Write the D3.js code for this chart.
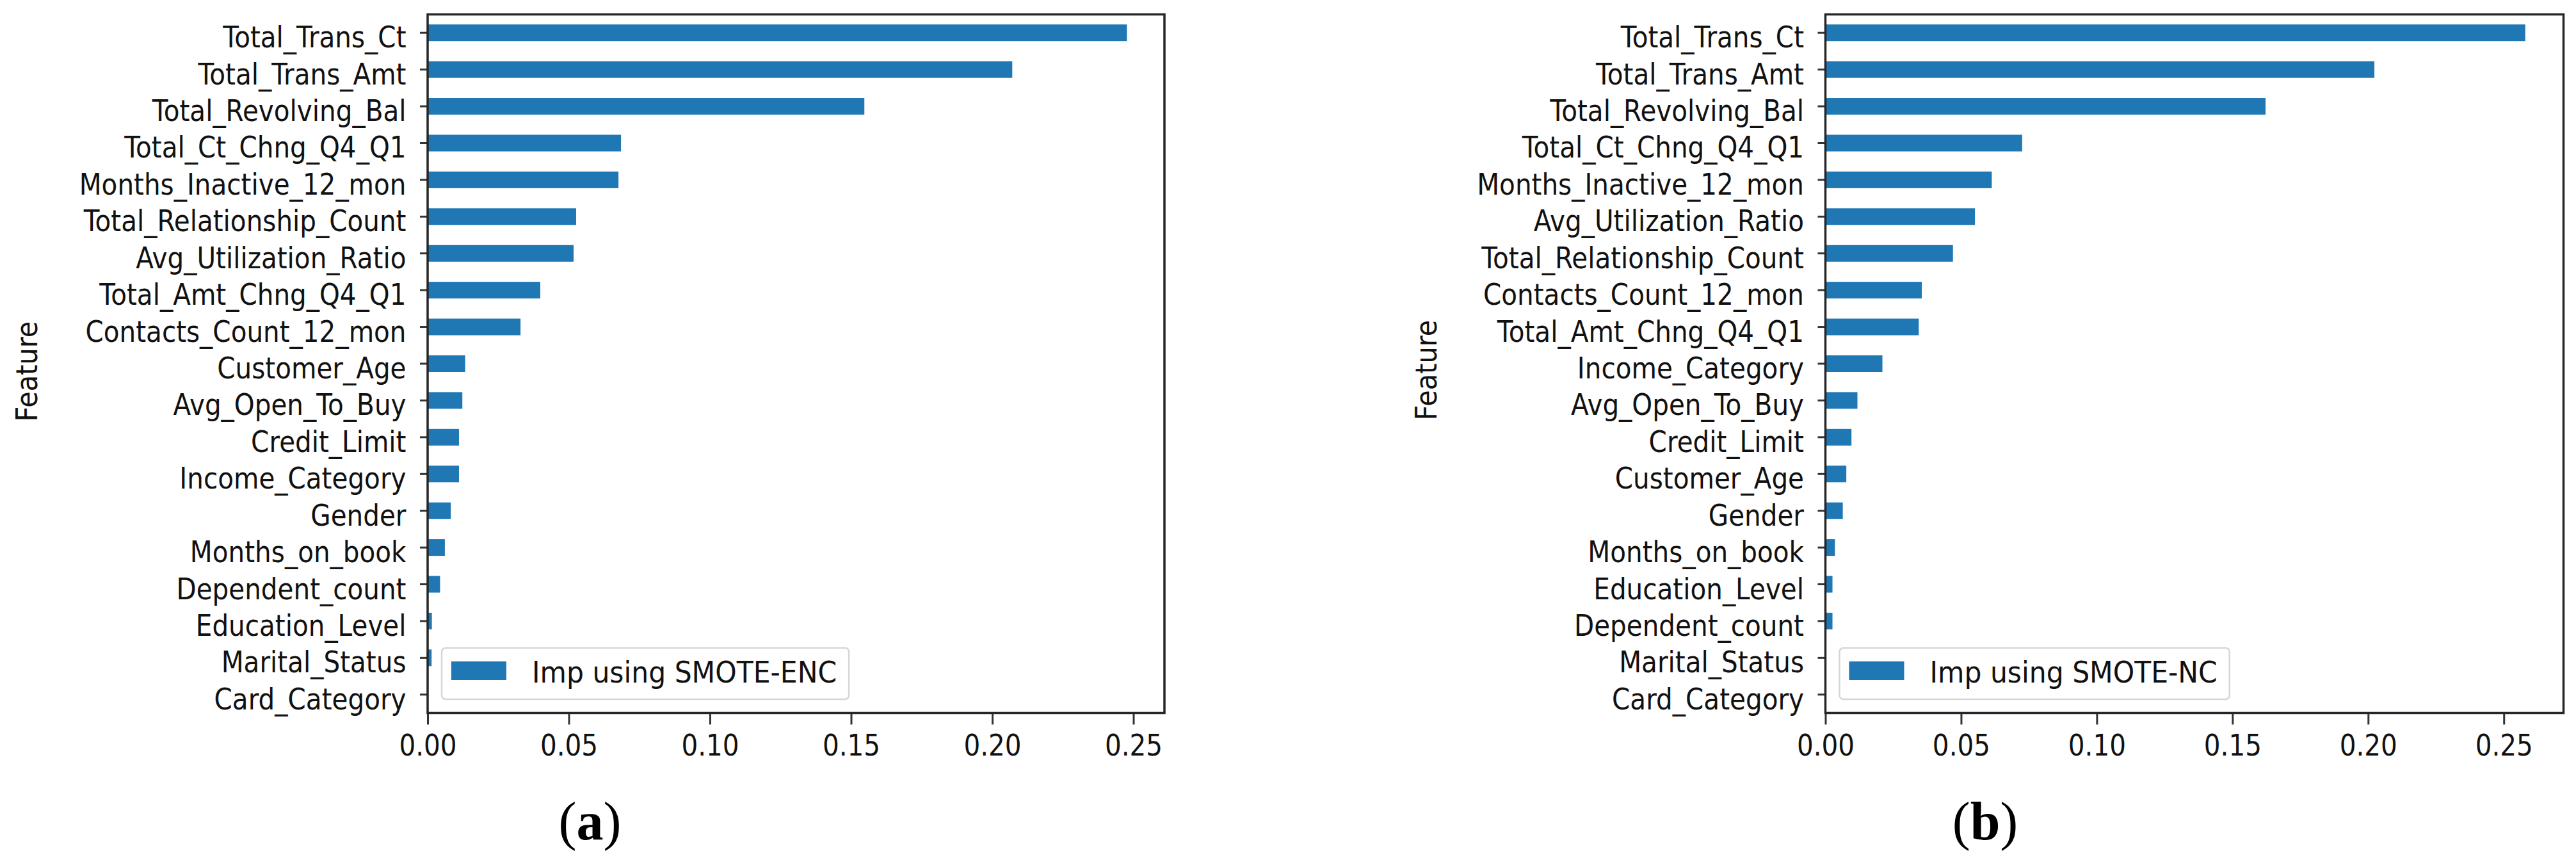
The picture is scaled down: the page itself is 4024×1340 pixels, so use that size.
<!DOCTYPE html>
<html><head><meta charset="utf-8">
<script src="https://cdn.jsdelivr.net/npm/d3@7"></script>
<style>body{margin:0;background:#fff}</style>
</head><body>
<svg id="chart" width="4024" height="1340"></svg>
<script>
// ---- data ----
const featuresA = ["Total_Trans_Ct","Total_Trans_Amt","Total_Revolving_Bal","Total_Ct_Chng_Q4_Q1","Months_Inactive_12_mon","Total_Relationship_Count","Avg_Utilization_Ratio","Total_Amt_Chng_Q4_Q1","Contacts_Count_12_mon","Customer_Age","Avg_Open_To_Buy","Credit_Limit","Income_Category","Gender","Months_on_book","Dependent_count","Education_Level","Marital_Status","Card_Category"];
const importanceA = [0.2477,0.2071,0.1547,0.0685,0.0676,0.0526,0.0517,0.0399,0.0329,0.0133,0.0123,0.0111,0.0111,0.0082,0.0061,0.0044,0.0015,0.0014,0.0];
const featuresB = ["Total_Trans_Ct","Total_Trans_Amt","Total_Revolving_Bal","Total_Ct_Chng_Q4_Q1","Months_Inactive_12_mon","Avg_Utilization_Ratio","Total_Relationship_Count","Contacts_Count_12_mon","Total_Amt_Chng_Q4_Q1","Income_Category","Avg_Open_To_Buy","Credit_Limit","Customer_Age","Gender","Months_on_book","Education_Level","Dependent_count","Marital_Status","Card_Category"];
const importanceB = [0.2579,0.2023,0.1622,0.0725,0.0613,0.0551,0.0470,0.0355,0.0344,0.0210,0.0118,0.0096,0.0077,0.0064,0.0035,0.0026,0.0026,0.0,0.0];
const xTickValues = [0.00,0.05,0.10,0.15,0.20,0.25];
const legendLabels = ["Imp using SMOTE-ENC","Imp using SMOTE-NC"];
const panelLetters = ["a","b"];
const yAxisTitle = "Feature";
const xMaxA = 0.261, xMaxB = 0.272;

// ---- drawing ----
const BAR = "#1f77b4";
const INK = "#111111";
const FONT = "'DejaVu Sans', sans-serif";
const svg = d3.select("#chart");
svg.append("rect").attr("width",4024).attr("height",1340).attr("fill","#fff");

const TOP = 22.5, BOTTOM = 1113.5;

function panel(cfg){
  const g = svg.append("g");
  const x = d3.scaleLinear().domain([0, cfg.xMax]).range([cfg.left, cfg.right]);
  const y = d3.scaleBand().domain(cfg.features).range([TOP, BOTTOM])
              .paddingInner(0.547).paddingOuter(0.2735);

  // bars
  g.append("g").selectAll("rect").data(cfg.features).join("rect")
    .attr("x", x(0))
    .attr("y", d => y(d))
    .attr("width", (d,i) => x(cfg.values[i]) - x(0))
    .attr("height", y.bandwidth())
    .attr("fill", BAR);

  // y axis
  const ya = g.append("g").attr("transform", `translate(${cfg.left},0)`)
    .call(d3.axisLeft(y).tickSize(12).tickPadding(21.5));
  ya.select(".domain").remove();
  ya.attr("font-size", null).attr("font-family", null);
  ya.selectAll(".tick line").attr("stroke", "#333").attr("stroke-width", 3);
  ya.selectAll(".tick text")
    .attr("dy", null).attr("y", 0)
    .attr("transform", "translate(0,23) scale(1,1.13)")
    .attr("fill", INK).style("font-family", FONT).style("font-size", "40.5px");

  // x axis
  const xa = g.append("g").attr("transform", `translate(0,${BOTTOM})`)
    .call(d3.axisBottom(x).tickValues(xTickValues).tickFormat(d3.format(".2f")).tickSize(18));
  xa.select(".domain").remove();
  xa.attr("font-size", null).attr("font-family", null);
  xa.selectAll(".tick line").attr("stroke", "#333").attr("stroke-width", 3);
  xa.selectAll(".tick text")
    .attr("dy", null).attr("y", 0)
    .attr("transform", "translate(0,66.5) scale(1,1.13)")
    .attr("fill", INK).style("font-family", FONT).style("font-size", "40.5px");

  // spines
  g.append("rect").attr("x", cfg.left).attr("y", TOP)
    .attr("width", cfg.right - cfg.left).attr("height", BOTTOM - TOP)
    .attr("fill", "none").attr("stroke", "#262626").attr("stroke-width", 3.5);

  // y title
  g.append("text").text(yAxisTitle)
    .attr("transform", `translate(${cfg.ytitleX},${cfg.ytitleY}) rotate(-90) scale(1,1.11)`)
    .attr("text-anchor", "middle").attr("fill", INK)
    .style("font-family", FONT).style("font-size", "41.5px");

  // legend
  const lg = g.append("g");
  const bx = cfg.left + 22, by = 1012, bh = 80;
  const box = lg.append("rect").attr("x", bx).attr("y", by).attr("height", bh)
    .attr("rx", 6).attr("ry", 6)
    .attr("fill", "#fff").attr("fill-opacity", 0.8)
    .attr("stroke", "#d6d6d6").attr("stroke-width", 2.5);
  lg.append("rect").attr("x", bx + 15).attr("y", by + 21).attr("width", 86).attr("height", 29).attr("fill", BAR);
  const tx = bx + 15 + 86 + 40;
  const lt = lg.append("text").text(cfg.legend)
    .attr("transform", `translate(${tx},${by + 54}) scale(1,1.1)`)
    .attr("fill", INK).style("font-family", FONT).style("font-size", "42.5px");
  const tw = lt.node().getComputedTextLength();
  box.attr("width", tx + tw + 19 - bx);

  // panel letter
  const pl = g.append("text").attr("x", cfg.letterX).attr("y", 1311)
    .attr("text-anchor", "middle").attr("fill", "#000")
    .style("font-family", "'Liberation Serif', 'DejaVu Serif', serif").style("font-size", "84px");
  pl.append("tspan").text("(");
  pl.append("tspan").text(cfg.letter).style("font-weight", "bold");
  pl.append("tspan").text(")");
}

panel({features: featuresA, values: importanceA, xMax: xMaxA, left: 668, right: 1819,
       ytitleX: 58, ytitleY: 580, legend: legendLabels[0], letter: panelLetters[0], letterX: 921.5});
panel({features: featuresB, values: importanceB, xMax: xMaxB, left: 2851.5, right: 4004.5,
       ytitleX: 2244, ytitleY: 578, legend: legendLabels[1], letter: panelLetters[1], letterX: 3101});
</script>
</body></html>
